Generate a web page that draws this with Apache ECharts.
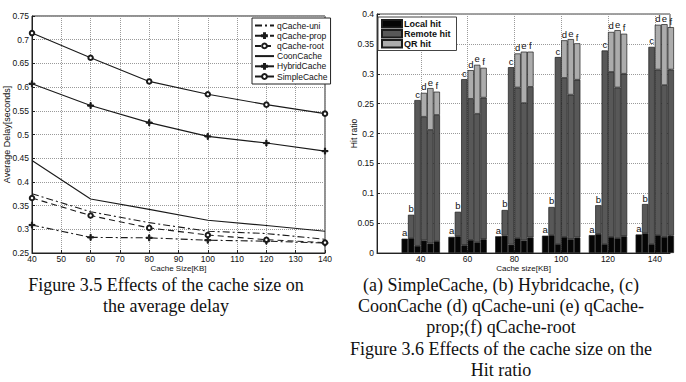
<!DOCTYPE html>
<html>
<head>
<meta charset="utf-8">
<script src="https://cdn.jsdelivr.net/npm/echarts@6/dist/echarts.min.js"></script>
<style>
html, body { margin: 0; padding: 0; background: #fff; }
#main { width: 686px; height: 382px; }
</style>
</head>
<body>
<div id="main"></div>
<script>
// Figure 3.5 - average delay vs cache size
const cacheSize = [40, 60, 80, 100, 120, 140]
const qCacheUni = [0.375, 0.337, 0.314, 0.296, 0.291, 0.279]
const qCacheProp = [0.309, 0.283, 0.282, 0.277, 0.275, 0.271]
const qCacheRoot = [0.366, 0.329, 0.303, 0.288, 0.278, 0.272]
const coonCache = [0.445, 0.364, 0.342, 0.319, 0.308, 0.296]
const hybridCache = [0.607, 0.561, 0.525, 0.496, 0.482, 0.465]
const simpleCache = [0.714, 0.662, 0.612, 0.585, 0.563, 0.544]

// Figure 3.6 - hit ratio, one row per scheme a..f
const schemes = ['a', 'b', 'c', 'd', 'e', 'f']
const hitNames = ['Local hit', 'Remote hit', 'QR hit']
const localHit = [
  [0.024, 0.027, 0.028, 0.029, 0.030, 0.031],
  [0.025, 0.028, 0.029, 0.030, 0.032, 0.033],
  [0.012, 0.013, 0.014, 0.015, 0.015, 0.015],
  [0.021, 0.022, 0.025, 0.027, 0.027, 0.030],
  [0.016, 0.018, 0.021, 0.023, 0.025, 0.027],
  [0.020, 0.023, 0.026, 0.026, 0.028, 0.029]
]
const remoteHit = [
  null,
  [0.039, 0.041, 0.043, 0.047, 0.048, 0.049],
  [0.244, 0.278, 0.297, 0.313, 0.324, 0.330],
  [0.207, 0.236, 0.252, 0.266, 0.276, 0.277],
  [0.190, 0.215, 0.230, 0.242, 0.252, 0.254],
  [0.211, 0.237, 0.252, 0.264, 0.272, 0.278]
]
const qrHit = [
  null,
  null,
  null,
  [0.040, 0.048, 0.057, 0.063, 0.067, 0.075],
  [0.070, 0.082, 0.086, 0.093, 0.096, 0.102],
  [0.039, 0.050, 0.059, 0.061, 0.067, 0.071]
]

const FONT = 'Liberation Sans, Arial, sans-serif'
const SERIF = 'Liberation Serif, Times New Roman, serif'
const INK = '#1a1a1a'
const plusPath = 'path://M4,0h2v4h4v2h-4v4h-2v-4h-4v-2h4z'

// line series for the delay chart
function delayLine(name, values, dash, symbol) {
  return {
    name: name,
    type: 'line',
    xAxisIndex: 0,
    yAxisIndex: 0,
    data: cacheSize.map((x, i) => [x, values[i]]),
    symbol: symbol || 'none',
    symbolSize: symbol === 'emptyCircle' ? 4.5 : 6,
    showSymbol: !!symbol,
    lineStyle: { color: INK, width: 1.1, type: dash },
    itemStyle: { color: INK, borderColor: INK, borderWidth: 1 },
    animation: false
  }
}

let series = [
  delayLine('qCache-uni', qCacheUni, [7, 3, 2, 3]),
  delayLine('qCache-prop', qCacheProp, [7, 3, 2, 3], plusPath),
  delayLine('qCache-root', qCacheRoot, [6, 4], 'emptyCircle'),
  delayLine('CoonCache', coonCache, 'solid'),
  delayLine('HybridCache', hybridCache, 'solid', plusPath),
  delayLine('SimpleCache', simpleCache, 'solid', 'emptyCircle')
]

// stacked bars, one stack per scheme (value first so it is the stacked dim)
const hitColors = ['#050505', '#585858', '#acacac']
const parts = [localHit, remoteHit, qrHit]
schemes.forEach((s, i) => {
  let top = 0
  parts.forEach((p, k) => { if (p[i]) top = k })
  parts.forEach((p, k) => {
    if (!p[i]) return
    series.push({
      name: hitNames[k],
      type: 'bar',
      xAxisIndex: 1,
      yAxisIndex: 1,
      stack: 'hit_' + s,
      barWidth: 6.4,
      barGap: '0%',
      encode: { x: 1, y: 0 },
      data: cacheSize.map((x, j) => [p[i][j], x]),
      itemStyle: { color: hitColors[k], borderColor: '#1c1c1c', borderWidth: 0.7 },
      label: {
        show: k === top,
        position: 'top',
        distance: 1,
        formatter: s,
        fontFamily: FONT,
        fontSize: 9.5,
        color: '#111'
      },
      animation: false
    })
  })
})

const axisText = { fontFamily: FONT, fontSize: 8.5, lineHeight: 9, color: '#111' }
const gridLine = { show: true, lineStyle: { color: '#9a9a9a', type: 'dotted', width: 1 } }
const noMark = { opacity: 0 }

let myChart = echarts.init(document.getElementById('main'), null, { renderer: 'svg' })
myChart.setOption({
  backgroundColor: '#fff',
  grid: [
    { left: 32, top: 16, width: 293, height: 237, show: true, borderColor: '#222', borderWidth: 1 },
    { left: 377, top: 14, width: 293, height: 239, show: true, borderColor: '#444', borderWidth: 1 }
  ],
  xAxis: [
    {
      gridIndex: 0, type: 'value', min: 40, max: 140, interval: 10,
      name: 'Cache Size[KB]', nameLocation: 'middle', nameGap: 11, nameMoveOverlap: false,
      nameTextStyle: { fontFamily: FONT, fontSize: 8, color: '#111', lineHeight: 8 },
      axisLine: { lineStyle: { color: '#222' } },
      axisTick: { inside: true, length: 3, lineStyle: { color: '#222' } },
      axisLabel: Object.assign({ margin: 1.5 }, axisText),
      splitLine: gridLine
    },
    {
      gridIndex: 1, type: 'value', min: 21.3, max: 146.5,
      name: 'Cache size[KB]', nameLocation: 'middle', nameGap: 11, nameMoveOverlap: false,
      nameTextStyle: { fontFamily: FONT, fontSize: 8, color: '#111', lineHeight: 8 },
      axisLine: { lineStyle: { color: '#222' } },
      axisTick: { inside: true, length: 3, customValues: cacheSize, lineStyle: { color: '#222' } },
      axisLabel: Object.assign({ margin: 1.5, customValues: cacheSize }, axisText),
      splitLine: gridLine
    }
  ],
  yAxis: [
    {
      gridIndex: 0, type: 'value', min: 0.25, max: 0.75, interval: 0.05,
      name: 'Average Delay[seconds]', nameLocation: 'middle', nameGap: 21, nameMoveOverlap: false,
      nameTextStyle: { fontFamily: FONT, fontSize: 9, color: '#111' },
      axisLine: { lineStyle: { color: '#222' } },
      axisTick: { show: true, inside: true, length: 3, lineStyle: { color: '#222' } },
      axisLabel: Object.assign({ margin: 3 }, axisText),
      splitLine: gridLine
    },
    {
      gridIndex: 1, type: 'value', min: 0, max: 0.4, interval: 0.05,
      name: 'Hit ratio', nameLocation: 'middle', nameGap: 19, nameMoveOverlap: false,
      nameTextStyle: { fontFamily: FONT, fontSize: 8.5, color: '#111' },
      axisLine: { lineStyle: { color: '#222' } },
      axisTick: { show: true, inside: true, length: 3, lineStyle: { color: '#222' } },
      axisLabel: Object.assign({ margin: 3 }, axisText),
      splitLine: gridLine
    }
  ],
  legend: [
    {
      data: [
        { name: 'qCache-uni', itemStyle: noMark },
        { name: 'qCache-prop' },
        { name: 'qCache-root' },
        { name: 'CoonCache', itemStyle: noMark },
        { name: 'HybridCache' },
        { name: 'SimpleCache' }
      ],
      orient: 'vertical', left: 252, top: 18,
      itemWidth: 19, itemHeight: 6, itemGap: 1.2,
      padding: [3, 3, 3, 2],
      backgroundColor: '#fff', borderColor: '#222', borderWidth: 1,
      textStyle: { fontFamily: FONT, fontSize: 8.5, lineHeight: 9, color: '#111', padding: [0, 0, 0, -2] }
    },
    {
      data: hitNames,
      orient: 'vertical', left: 378, top: 17,
      icon: 'rect', itemWidth: 20, itemHeight: 7.5, itemGap: 0.5,
      padding: [2, 6, 2, 3],
      backgroundColor: '#fff', borderColor: '#444', borderWidth: 1,
      textStyle: { fontFamily: FONT, fontSize: 9, lineHeight: 8, fontWeight: 'bold', color: '#111', padding: [0, 0, 0, -3] }
    }
  ],
  graphic: [
    {
      type: 'text', x: 166, y: 274,
      style: {
        text: 'Figure 3.5 Effects of the cache size on\nthe average delay',
        align: 'center', verticalAlign: 'top', lineHeight: 21.3,
        fontFamily: SERIF, fontSize: 18, fill: '#111'
      }
    },
    {
      type: 'text', x: 501, y: 274,
      style: {
        text: '(a) SimpleCache, (b) Hybridcache, (c)\nCoonCache (d) qCache-uni (e) qCache-\nprop;(f) qCache-root\nFigure 3.6 Effects of the cache size on the\nHit ratio',
        align: 'center', verticalAlign: 'top', lineHeight: 21.3,
        fontFamily: SERIF, fontSize: 18, fill: '#111'
      }
    }
  ],
  series: series
})
</script>
</body>
</html>
